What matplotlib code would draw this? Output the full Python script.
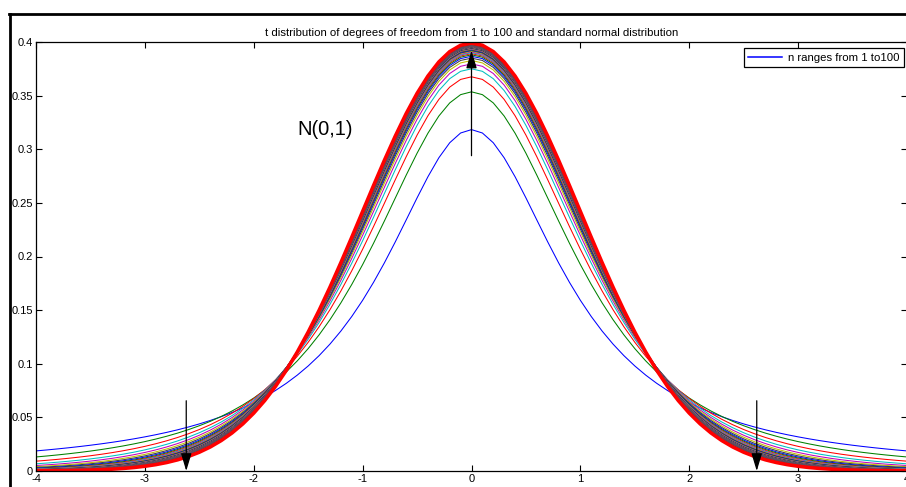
import math
import numpy as np
import matplotlib.pyplot as plt
from matplotlib.lines import Line2D

plt.rcParams['font.family'] = ['Liberation Sans', 'DejaVu Sans']
plt.rcParams['axes.unicode_minus'] = False

# x grid and degrees of freedom
x = np.linspace(-4, 4, 81)
dof = list(range(1, 101))
xticks = [-4, -3, -2, -1, 0, 1, 2, 3, 4]
yticks = [0, 0.05, 0.1, 0.15, 0.2, 0.25, 0.3, 0.35, 0.4]
ytick_labels = ['0', '0.05', '0.1', '0.15', '0.2', '0.25', '0.3', '0.35', '0.4']

# matlab default color order
colors = [(0, 0, 1), (0, 0.5, 0), (1, 0, 0), (0, 0.75, 0.75),
          (0.75, 0, 0.75), (0.75, 0.75, 0), (0.25, 0.25, 0.25)]


def tpdf(t, n):
    c = math.exp(math.lgamma((n + 1) / 2) - math.lgamma(n / 2)) / math.sqrt(n * math.pi)
    return c * (1 + t ** 2 / n) ** (-(n + 1) / 2)


fig = plt.figure(figsize=(9.06, 4.87), dpi=100)
W, H = 906, 487
ax = fig.add_axes([36 / W, 1 - 471 / H, 871 / W, 429 / H])

for i, n in enumerate(dof):
    ax.plot(x, tpdf(x, n), color=colors[i % 7], lw=0.75,
            label='n ranges from 1 to100' if i == 0 else None)

normal = np.exp(-x ** 2 / 2) / np.sqrt(2 * np.pi)
ax.plot(x, normal, color='red', lw=2.6)

# arrows
astyle = dict(arrowstyle='-|>,head_length=0.6,head_width=0.18', color='black',
              lw=0.9, mutation_scale=18, shrinkA=0, shrinkB=0)
ax.annotate('', xy=(0, 0.392), xytext=(0, 0.294), arrowprops=astyle)
for xa in (-2.62, 2.62):
    ax.annotate('', xy=(xa, 0.0), xytext=(xa, 0.0655), arrowprops=astyle)
ax.text(-1.6, 0.318, 'N(0,1)', fontsize=14.5, va='center', ha='left')

ax.set_xlim(-4, 4)
ax.set_ylim(0, 0.4)
ax.set_xticks(xticks)
ax.set_yticks(yticks)
ax.set_yticklabels(ytick_labels)
ax.tick_params(direction='in', top=True, right=True, length=4.5, width=0.8,
               labelsize=8, pad=2)
for s in ax.spines.values():
    s.set_linewidth(0.9)
ax.set_title('t distribution of degrees of freedom from 1 to 100 and standard normal distribution',
             fontsize=8.2, pad=4)

leg = ax.legend(loc='upper right', bbox_to_anchor=(868 / 871, 1 - 6 / 429),
                fontsize=8.2, fancybox=False, framealpha=1, edgecolor='black',
                borderpad=0.4, handlelength=3.0, handletextpad=0.5, borderaxespad=0)
leg.get_frame().set_linewidth(0.9)
leg.get_lines()[0].set_linewidth(1.1)

# outer frame
fig.add_artist(Line2D([9 / W, 1], [1 - 14 / H, 1 - 14 / H], color='black', lw=2,
                      transform=fig.transFigure))
fig.add_artist(Line2D([10 / W, 10 / W], [0, 1 - 14 / H], color='black', lw=2,
                      transform=fig.transFigure))

fig.savefig('out.png', dpi=100)
